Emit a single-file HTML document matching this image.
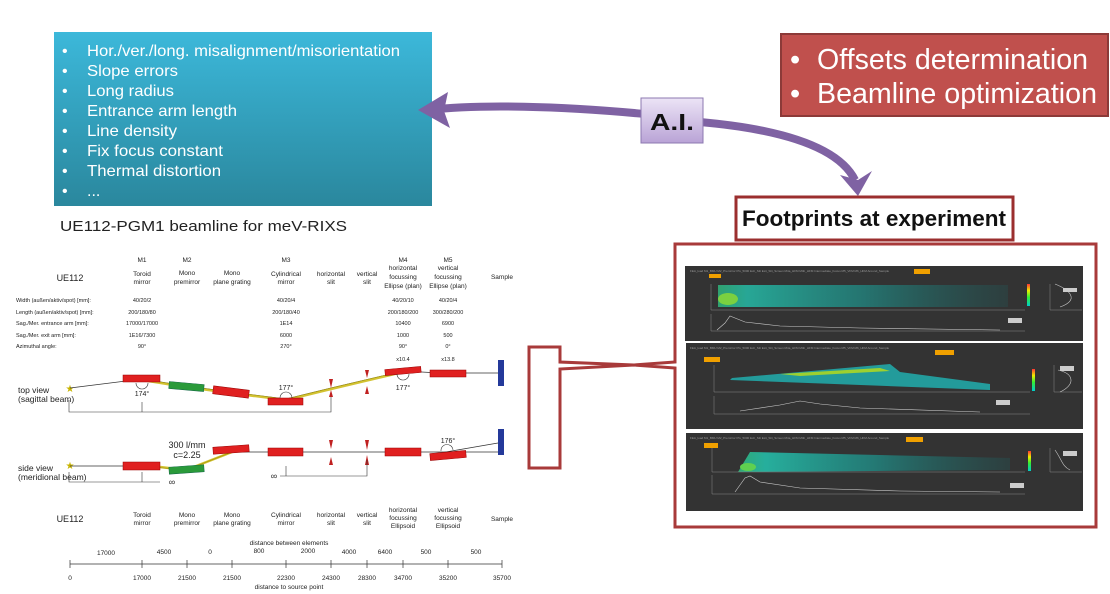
<!DOCTYPE html>
<html><head><meta charset="utf-8"><style>
html,body{margin:0;padding:0;background:#fff;}
svg{display:block;font-family:"Liberation Sans",sans-serif;}
</style></head><body>
<svg width="1110" height="594" viewBox="0 0 1110 594" xmlns="http://www.w3.org/2000/svg">
<defs>
<linearGradient id="bl" x1="0" y1="0" x2="0" y2="1"><stop offset="0" stop-color="#3cb8da"/><stop offset="1" stop-color="#2a879d"/></linearGradient>
<linearGradient id="ai" x1="0" y1="0" x2="0" y2="1"><stop offset="0" stop-color="#ece4f6"/><stop offset="1" stop-color="#b9a3d6"/></linearGradient>
<linearGradient id="hm1" x1="0" y1="0" x2="1" y2="0"><stop offset="0" stop-color="#2fd08a"/><stop offset="0.1" stop-color="#22d8c0"/><stop offset="0.5" stop-color="#1aa8a0" stop-opacity="0.8"/><stop offset="1" stop-color="#1a6a6a" stop-opacity="0.3"/></linearGradient>
<linearGradient id="cb" x1="0" y1="0" x2="0" y2="1"><stop offset="0" stop-color="#f33"/><stop offset="0.3" stop-color="#ee0"/><stop offset="0.6" stop-color="#3e3"/><stop offset="1" stop-color="#0cc"/></linearGradient>
</defs>

<!-- blue box -->
<rect x="54" y="32" width="378" height="174" fill="url(#bl)"/>
<g fill="#fff" font-size="16">
<text x="62" y="56">•</text><text x="87" y="56" textLength="313" lengthAdjust="spacingAndGlyphs">Hor./ver./long. misalignment/misorientation</text>
<text x="62" y="76">•</text><text x="87" y="76" textLength="91" lengthAdjust="spacingAndGlyphs">Slope errors</text>
<text x="62" y="96">•</text><text x="87" y="96" textLength="87" lengthAdjust="spacingAndGlyphs">Long radius</text>
<text x="62" y="116">•</text><text x="87" y="116" textLength="150" lengthAdjust="spacingAndGlyphs">Entrance arm length</text>
<text x="62" y="136">•</text><text x="87" y="136" textLength="90" lengthAdjust="spacingAndGlyphs">Line density</text>
<text x="62" y="156">•</text><text x="87" y="156" textLength="136" lengthAdjust="spacingAndGlyphs">Fix focus constant</text>
<text x="62" y="176">•</text><text x="87" y="176" textLength="134" lengthAdjust="spacingAndGlyphs">Thermal distortion</text>
<text x="62" y="196">•</text><text x="87" y="196">...</text>
</g>
<text x="60" y="231" font-size="15" fill="#222" textLength="287" lengthAdjust="spacingAndGlyphs">UE112-PGM1 beamline for meV-RIXS</text>

<!-- red box -->
<rect x="781" y="34" width="327" height="82" fill="#c0504d" stroke="#8c3a38" stroke-width="2"/>
<g fill="#fff" font-size="29">
<text x="790" y="69">•</text><text x="817" y="69" textLength="271" lengthAdjust="spacingAndGlyphs">Offsets determination</text>
<text x="790" y="103">•</text><text x="817" y="103" textLength="280" lengthAdjust="spacingAndGlyphs">Beamline optimization</text>
</g>

<!-- arrows -->
<path d="M645 114 C560 106 480 104 428 110" fill="none" stroke="#7f62a3" stroke-width="8"/>
<polygon points="418,110 448,92 444,111 450,128" fill="#7f62a3"/>
<path d="M700 122 C790 130 840 150 855 180" fill="none" stroke="#7f62a3" stroke-width="8"/>
<polygon points="858,196 840,175 858,180 872,171" fill="#7f62a3"/>
<rect x="641" y="98" width="62" height="45" fill="url(#ai)" stroke="#8c78b0" stroke-width="1"/>
<text x="672" y="130" font-size="23" font-weight="bold" text-anchor="middle" fill="#111" textLength="44" lengthAdjust="spacingAndGlyphs">A.I.</text>

<!-- footprints -->
<rect x="736" y="197" width="277" height="43" fill="#fff" stroke="#9b2f2f" stroke-width="3"/>
<text x="742" y="226" font-size="22" font-weight="bold" fill="#111" textLength="264" lengthAdjust="spacingAndGlyphs">Footprints at experiment</text>

<!-- big panel + bracket -->
<path d="M675 362 L675 244 L1096 244 L1096 527 L675 527 L675 368 L634 365 L560 369 L560 468 L529 468 L529 347 L560 347 L560 362 L634 365 Z" fill="none" stroke="#a83a3a" stroke-width="3" stroke-linejoin="miter"/>

<!-- screenshot panels -->
<g>
<rect x="685" y="266" width="398" height="75" fill="#333"/>
<rect x="686" y="343" width="397" height="86" fill="#333"/>
<rect x="686" y="433" width="397" height="78" fill="#333"/>
<rect x="914" y="269" width="16" height="5" fill="#f0a000"/>
<rect x="709" y="274" width="12" height="4" fill="#f0a000"/>
<rect x="935" y="350" width="19" height="5" fill="#f0a000"/>
<rect x="704" y="357" width="16" height="5" fill="#f0a000"/>
<rect x="906" y="437" width="17" height="5" fill="#f0a000"/>
<rect x="704" y="443" width="14" height="5" fill="#f0a000"/>
<g fill="#999" font-size="3">
<text x="690" y="272">FEA_load  M1_BMU  M2_Premirror  PG_5000  Exit_Slit  Exit_Slit_Screen  M4a_HFM  M4b_HFM  Intermediate_Focus  M5_VFM  M6_HFM  Around_Sample</text>
<text x="690" y="349">FEA_load  M1_BMU  M2_Premirror  PG_5000  Exit_Slit  Exit_Slit_Screen  M4a_HFM  M4b_HFM  Intermediate_Focus  M5_VFM  M6_HFM  Around_Sample</text>
<text x="690" y="439">FEA_load  M1_BMU  M2_Premirror  PG_5000  Exit_Slit  Exit_Slit_Screen  M4a_HFM  M4b_HFM  Intermediate_Focus  M5_VFM  M6_HFM  Around_Sample</text>
</g>
<rect x="718" y="285" width="290" height="22" fill="url(#hm1)" opacity="0.7"/>
<ellipse cx="728" cy="299" rx="10" ry="6" fill="#7bd040"/>
<polygon points="732,378 890,364 900,372 990,384 990,390 730,380" fill="#1fb5b5" opacity="0.8"/>
<polygon points="780,374 880,368 890,371 800,376" fill="#9dd030"/>
<polygon points="738,472 750,452 1010,458 1010,470" fill="url(#hm1)" opacity="0.75"/>
<ellipse cx="748" cy="467" rx="8" ry="4" fill="#5fd050"/>
<rect x="1027" y="284" width="3" height="22" fill="url(#cb)"/>
<rect x="1032" y="369" width="3" height="22" fill="url(#cb)"/>
<rect x="1028" y="451" width="3" height="20" fill="url(#cb)"/>
<g stroke="#888" stroke-width="0.5" fill="none">
<path d="M711 284 V310 H1025"/><path d="M711 314 V331 H1025"/>
<path d="M714 365 V392 H1030"/><path d="M714 396 V414 H1030"/>
<path d="M712 448 V472 H1025"/><path d="M712 475 V494 H1025"/>
<path d="M1050 284 V310 H1082"/><path d="M1054 365 V392 H1082"/><path d="M1050 448 V472 H1082"/>
</g>
<g stroke="#ccc" stroke-width="0.6" fill="none">
<path d="M717 330 L725 323 L730 316 L735 318 L745 322 L780 326 L860 328 L1000 330"/>
<path d="M740 411 L780 405 L800 401 L820 404 L860 408 L980 412"/>
<path d="M735 492 L745 478 L750 476 L760 482 L800 488 L900 491 L1000 492"/>
<path d="M1055 284 C1070 290 1080 300 1060 307"/>
<path d="M1058 370 C1075 374 1075 385 1060 392"/>
<path d="M1055 450 C1062 460 1062 466 1070 470"/>
</g>
<rect x="1063" y="288" width="14" height="4" fill="#ccc"/>
<rect x="1008" y="318" width="14" height="5" fill="#ccc"/>
<rect x="1060" y="366" width="14" height="5" fill="#ccc"/>
<rect x="996" y="400" width="14" height="5" fill="#ccc"/>
<rect x="1063" y="451" width="14" height="5" fill="#ccc"/>
<rect x="1010" y="483" width="14" height="5" fill="#ccc"/>
</g>

<!-- beamline diagram -->
<g font-size="6.5" fill="#222" text-anchor="middle">
<text x="70" y="281" font-size="9">UE112</text>
<text x="142" y="262">M1</text><text x="142" y="276">Toroid</text><text x="142" y="284">mirror</text>
<text x="187" y="262">M2</text><text x="187" y="275">Mono</text><text x="187" y="284">premirror</text>
<text x="232" y="275">Mono</text><text x="232" y="284">plane grating</text>
<text x="286" y="262">M3</text><text x="286" y="276">Cylindrical</text><text x="286" y="284">mirror</text>
<text x="331" y="276">horizontal</text><text x="331" y="284">slit</text>
<text x="367" y="276">vertical</text><text x="367" y="284">slit</text>
<text x="403" y="262">M4</text><text x="403" y="270">horizontal</text><text x="403" y="279">focussing</text><text x="403" y="288">Ellipse (plan)</text>
<text x="448" y="262">M5</text><text x="448" y="270">vertical</text><text x="448" y="279">focussing</text><text x="448" y="288">Ellipse (plan)</text>
<text x="502" y="279">Sample</text>
</g>
<g font-size="5.5" fill="#222">
<text x="16" y="302">Width (außen/aktiv/spot) [mm]:</text>
<text x="16" y="314">Length (außen/aktiv/spot) [mm]:</text>
<text x="16" y="325">Sag./Mer. entrance arm [mm]:</text>
<text x="16" y="337">Sag./Mer. exit arm [mm]:</text>
<text x="16" y="348">Azimuthal angle:</text>
</g>
<g font-size="5.5" fill="#222" text-anchor="middle">
<text x="142" y="302">40/20/2</text><text x="142" y="314">200/180/80</text><text x="142" y="325">17000/17000</text><text x="142" y="337">1E16/7300</text><text x="142" y="348">90°</text>
<text x="286" y="302">40/20/4</text><text x="286" y="314">200/180/40</text><text x="286" y="325">1E14</text><text x="286" y="337">6000</text><text x="286" y="348">270°</text>
<text x="403" y="302">40/20/10</text><text x="403" y="314">200/180/200</text><text x="403" y="325">10400</text><text x="403" y="337">1000</text><text x="403" y="348">90°</text><text x="403" y="361">x10.4</text>
<text x="448" y="302">40/20/4</text><text x="448" y="314">300/280/200</text><text x="448" y="325">6900</text><text x="448" y="337">500</text><text x="448" y="348">0°</text><text x="448" y="361">x13.8</text>
</g>

<g font-size="8.5" fill="#222"><text x="18" y="393">top view</text><text x="18" y="402">(sagittal beam)</text>
<text x="18" y="471">side view</text><text x="18" y="480">(meridional beam)</text></g>
<text x="70" y="392" font-size="10" fill="#c8b400" text-anchor="middle">★</text>
<text x="70" y="469" font-size="10" fill="#c8b400" text-anchor="middle">★</text>
<path d="M70 388 L142 379 L186 386 L231 392 L286 399 L331 388 L403 371 L440 373 L498 373" fill="none" stroke="#333" stroke-width="0.7"/>
<path d="M142 380 L186 387 L231 393 L286 400 L331 389 L403 372" fill="none" stroke="#c8b400" stroke-width="2.5" opacity="0.8"/>
<rect x="123" y="375" width="37" height="7" fill="#e02020" stroke="#900" stroke-width="0.5"/>
<rect x="169" y="383" width="35" height="7" fill="#2a9a3a" stroke="#164" stroke-width="0.5" transform="rotate(5 186 386)"/>
<rect x="213" y="388" width="36" height="8" fill="#e02020" stroke="#900" stroke-width="0.5" transform="rotate(7 231 392)"/>
<rect x="268" y="398" width="35" height="7" fill="#e02020" stroke="#900" stroke-width="0.5"/>
<rect x="385" y="368" width="36" height="6" fill="#e02020" stroke="#900" stroke-width="0.5" transform="rotate(-5 403 371)"/>
<rect x="430" y="370" width="36" height="7" fill="#e02020" stroke="#900" stroke-width="0.5"/>
<polygon points="329,379 333,379 331,388" fill="#c02020"/><polygon points="329,397 333,397 331,390" fill="#c02020"/>
<polygon points="365,370 369,370 367,378" fill="#c02020"/><polygon points="365,394 369,394 367,386" fill="#c02020"/>
<g font-size="7" fill="#222" text-anchor="middle"><text x="142" y="396">174°</text><text x="286" y="390">177°</text><text x="403" y="390">177°</text><text x="448" y="443">176°</text></g>
<g fill="none" stroke="#333" stroke-width="0.6">
<path d="M136 383 A6 6 0 0 0 148 383"/><path d="M280 398 A6 6 0 0 1 292 398"/><path d="M397 374 A6 6 0 0 0 409 374"/><path d="M441 451 A6 6 0 0 1 453 450"/>
<path d="M69 400 V412 H331 V397"/><path d="M142 402 V412"/>
</g>
<rect x="498" y="360" width="6" height="26" fill="#24399a"/>
<rect x="498" y="429" width="6" height="26" fill="#24399a"/>

<path d="M70 466 L142 466 L186 470 L232 452 L498 452" fill="none" stroke="#333" stroke-width="0.7"/>
<path d="M440 453 L498 443" fill="none" stroke="#333" stroke-width="0.7"/>
<path d="M160 467 L186 470 L232 452" fill="none" stroke="#c8b400" stroke-width="2.5" opacity="0.8"/>
<rect x="123" y="462" width="37" height="8" fill="#e02020" stroke="#900" stroke-width="0.5"/>
<rect x="169" y="466" width="35" height="7" fill="#2a9a3a" stroke="#164" stroke-width="0.5" transform="rotate(-4 186 469)"/>
<rect x="213" y="446" width="36" height="7" fill="#e02020" stroke="#900" stroke-width="0.5" transform="rotate(-4 231 449)"/>
<rect x="268" y="448" width="35" height="8" fill="#e02020" stroke="#900" stroke-width="0.5"/>
<rect x="385" y="448" width="36" height="8" fill="#e02020" stroke="#900" stroke-width="0.5"/>
<rect x="430" y="452" width="36" height="7" fill="#e02020" stroke="#900" stroke-width="0.5" transform="rotate(-5 448 455)"/>
<polygon points="329,440 333,440 331,449" fill="#c02020"/><polygon points="329,465 333,465 331,457" fill="#c02020"/>
<polygon points="365,440 369,440 367,450" fill="#c02020"/><polygon points="365,465 369,465 367,455" fill="#c02020"/>
<text x="187" y="448" font-size="9" text-anchor="middle" fill="#222">300 l/mm</text>
<text x="187" y="458" font-size="9" text-anchor="middle" fill="#222">c=2.25</text>
<g fill="none" stroke="#333" stroke-width="0.6">
<path d="M69 472 V482 H160"/><path d="M142 472 V482"/>
<path d="M280 476 H367 V460"/><path d="M286 466 V476"/>
</g>
<text x="172" y="485" font-size="9" fill="#222" text-anchor="middle">∞</text>
<text x="274" y="479" font-size="9" fill="#222" text-anchor="middle">∞</text>

<g font-size="6.5" fill="#222" text-anchor="middle">
<text x="70" y="522" font-size="9">UE112</text>
<text x="142" y="517">Toroid</text><text x="142" y="525">mirror</text>
<text x="187" y="517">Mono</text><text x="187" y="525">premirror</text>
<text x="232" y="517">Mono</text><text x="232" y="525">plane grating</text>
<text x="286" y="517">Cylindrical</text><text x="286" y="525">mirror</text>
<text x="331" y="517">horizontal</text><text x="331" y="525">slit</text>
<text x="367" y="517">vertical</text><text x="367" y="525">slit</text>
<text x="403" y="512">horizontal</text><text x="403" y="520">focussing</text><text x="403" y="528">Ellipsoid</text>
<text x="448" y="512">vertical</text><text x="448" y="520">focussing</text><text x="448" y="528">Ellipsoid</text>
<text x="502" y="521">Sample</text>
<text x="289" y="545">distance between elements</text>
<text x="106" y="555">17000</text><text x="164" y="554">4500</text><text x="210" y="554">0</text><text x="259" y="553">800</text><text x="308" y="553">2000</text><text x="349" y="554">4000</text><text x="385" y="554">6400</text><text x="426" y="554">500</text><text x="476" y="554">500</text>
<text x="70" y="580">0</text><text x="142" y="580">17000</text><text x="187" y="580">21500</text><text x="232" y="580">21500</text><text x="286" y="580">22300</text><text x="331" y="580">24300</text><text x="367" y="580">28300</text><text x="403" y="580">34700</text><text x="448" y="580">35200</text><text x="502" y="580">35700</text>
<text x="289" y="589">distance to source point</text>
</g>
<g stroke="#333" stroke-width="0.7">
<path d="M70 564 H502"/>
<path d="M70 560 V568 M142 560 V568 M187 560 V568 M232 560 V568 M286 560 V568 M331 560 V568 M367 560 V568 M403 560 V568 M448 560 V568 M502 560 V568"/>
</g>
</svg>
</body></html>
